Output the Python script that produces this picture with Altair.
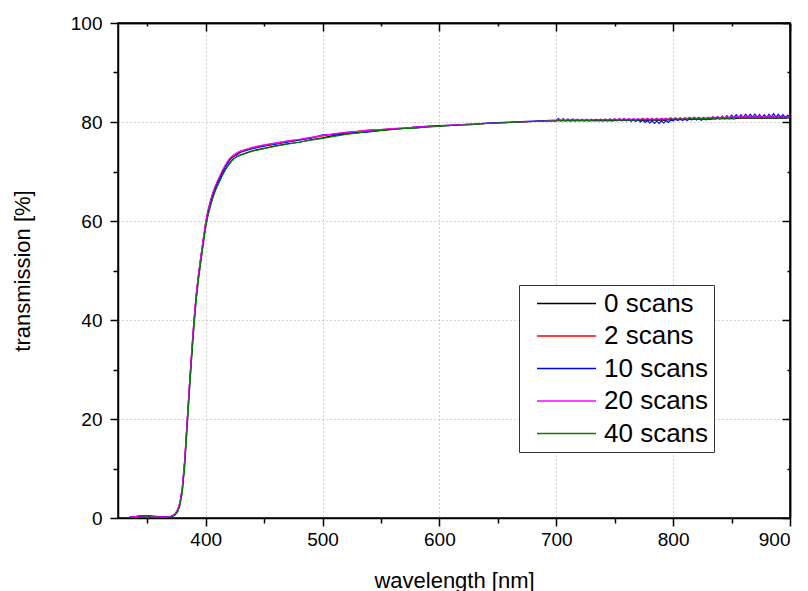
import altair as alt
import pandas as pd

# Sampling wavelengths [nm]: coarse on the flat baseline, fine across the edge
# and in the red part where the interference ripple shows up.
wavelength = (list(range(335, 371, 5)) + list(range(372, 431, 2))
              + list(range(440, 691, 10)) + list(range(700, 901, 2)))

series_names = ["0 scans", "2 scans", "10 scans", "20 scans", "40 scans"]
series_colors = ["#000000", "#ff0000", "#0000ff", "#ff00ff", "#008000"]

# Transmission [%] for each number of scans, one value per wavelength above.
t_0 = [
    0.2, 0.3, 0.5, 0.5, 0.4, 0.3, 0.2, 0.2,
    0.4, 0.7, 1.3, 2.6, 5.3, 10.5, 17.8, 25.3, 32.4, 38.9, 44.4, 48.6, 52.2, 55.6, 58.9, 61.3, 63.1,
    64.7, 66.1, 67.2, 68.2, 69.2, 70.1, 70.9, 71.6, 72.1, 72.6, 72.9, 73.2, 73.4,
    74.2, 74.7, 75.2, 75.6, 75.9, 76.4, 76.8, 77.3, 77.6, 77.8, 78.1, 78.3, 78.5, 78.7, 78.8, 79.0,
    79.2, 79.3, 79.4, 79.5, 79.7, 79.8, 79.9, 80.0, 80.1, 80.2,
    80.2, 80.3, 80.2, 80.3, 80.2, 80.3, 80.2, 80.3, 80.2, 80.3,
    80.2, 80.3, 80.2, 80.3, 80.2, 80.3, 80.2, 80.3, 80.2, 80.3,
    80.2, 80.3, 80.2, 80.3, 80.2, 80.3, 80.3, 80.4, 80.3, 80.4,
    80.3, 80.4, 80.3, 80.4, 80.3, 80.4, 80.3, 80.4, 80.3, 80.4,
    80.3, 80.4, 80.3, 80.4, 80.3, 80.4, 80.3, 80.4, 80.4, 80.5,
    80.4, 80.5, 80.4, 80.5, 80.4, 80.5, 80.4, 80.5, 80.5, 80.6,
    80.5, 80.6, 80.5, 80.6, 80.5, 80.6, 80.5, 80.6, 80.6, 80.7,
    80.6, 80.7, 80.6, 80.7, 80.6, 80.7, 80.6, 80.7, 80.7, 80.8,
    80.7, 80.8, 80.7, 80.8, 80.7, 80.8, 80.7, 80.8, 80.7, 80.8,
    80.7, 80.8, 80.7, 80.8, 80.7, 80.8, 80.7, 80.8, 80.7, 80.8,
    80.8,
]
t_2 = [
    0.2, 0.3, 0.3, 0.4, 0.3, 0.2, 0.2, 0.3,
    0.5, 0.9, 1.6, 3.1, 6.1, 11.5, 19.0, 26.5, 33.5, 40.0, 45.4, 49.5, 53.0, 56.4, 59.7, 62.1, 63.9,
    65.5, 66.8, 67.9, 68.9, 69.9, 70.8, 71.6, 72.3, 72.8, 73.2, 73.5, 73.8, 74.0,
    74.8, 75.3, 75.7, 76.1, 76.4, 76.8, 77.2, 77.6, 77.9, 78.1, 78.4, 78.5, 78.7, 78.8, 79.0, 79.1,
    79.2, 79.3, 79.5, 79.6, 79.7, 79.8, 79.9, 80.0, 80.1, 80.2,
    80.3, 80.5, 80.3, 80.5, 80.3, 80.5, 80.3, 80.5, 80.3, 80.5,
    80.3, 80.4, 80.3, 80.4, 80.3, 80.5, 80.3, 80.5, 80.3, 80.5,
    80.3, 80.5, 80.3, 80.5, 80.3, 80.5, 80.3, 80.5, 80.4, 80.6,
    80.4, 80.6, 80.4, 80.6, 80.4, 80.6, 80.4, 80.6, 80.4, 80.6,
    80.4, 80.6, 80.4, 80.6, 80.4, 80.6, 80.5, 80.7, 80.5, 80.7,
    80.5, 80.7, 80.5, 80.7, 80.5, 80.7, 80.5, 80.8, 80.6, 80.8,
    80.6, 80.8, 80.6, 80.8, 80.6, 80.9, 80.6, 80.9, 80.7, 80.9,
    80.7, 80.9, 80.7, 80.9, 80.7, 81.0, 80.8, 81.0, 80.8, 81.0,
    80.8, 81.0, 80.8, 81.1, 80.8, 81.1, 80.9, 81.1, 80.9, 81.1,
    80.9, 81.1, 80.9, 81.1, 80.9, 81.2, 80.9, 81.2, 80.9, 81.1,
    81.0,
]
t_10 = [
    0.2, 0.3, 0.4, 0.4, 0.3, 0.2, 0.2, 0.3,
    0.5, 0.9, 1.6, 3.0, 6.0, 11.3, 18.8, 26.3, 33.3, 39.8, 45.2, 49.3, 52.8, 56.2, 59.5, 61.9, 63.7,
    65.3, 66.6, 67.7, 68.7, 69.7, 70.6, 71.4, 72.1, 72.6, 73.0, 73.3, 73.6, 73.9,
    74.6, 75.1, 75.5, 75.9, 76.3, 76.7, 77.4, 77.5, 77.7, 77.9, 78.0, 78.3, 78.6, 78.8, 79.0, 79.2,
    79.3, 79.4, 79.5, 79.6, 79.8, 79.9, 80.0, 80.1, 80.2, 80.3,
    80.4, 80.7, 80.2, 80.7, 80.2, 80.6, 80.2, 80.6, 80.3, 80.5,
    80.3, 80.5, 80.3, 80.5, 80.3, 80.5, 80.3, 80.5, 80.4, 80.5,
    80.3, 80.6, 80.3, 80.6, 80.2, 80.6, 80.2, 80.7, 80.2, 80.7,
    80.2, 80.6, 80.1, 80.6, 80.1, 80.5, 80.0, 80.4, 79.9, 80.3,
    79.8, 80.2, 79.7, 80.2, 79.7, 80.2, 79.8, 80.3, 79.9, 80.4,
    80.2, 80.7, 80.3, 80.8, 80.3, 80.8, 80.3, 80.8, 80.4, 80.9,
    80.4, 80.8, 80.3, 80.8, 80.4, 80.9, 80.5, 81.0, 80.6, 81.1,
    80.6, 81.2, 80.7, 81.3, 80.8, 81.4, 80.9, 81.5, 80.9, 81.5,
    80.9, 81.6, 81.0, 81.6, 81.0, 81.6, 81.0, 81.5, 80.9, 81.5,
    80.9, 81.6, 81.0, 81.7, 81.0, 81.6, 81.0, 81.5, 81.0, 81.4,
    81.1,
]
t_20 = [
    0.2, 0.3, 0.4, 0.4, 0.3, 0.2, 0.2, 0.3,
    0.5, 0.9, 1.7, 3.2, 6.3, 11.8, 19.3, 26.8, 33.8, 40.2, 45.6, 49.7, 53.2, 56.6, 59.9, 62.3, 64.1,
    65.7, 67.0, 68.1, 69.1, 70.1, 71.0, 71.8, 72.5, 73.0, 73.4, 73.7, 74.0, 74.2,
    74.9, 75.4, 75.8, 76.2, 76.5, 76.9, 77.3, 77.6, 77.9, 78.1, 78.3, 78.5, 78.7, 78.8, 79.0, 79.1,
    79.2, 79.4, 79.5, 79.6, 79.7, 79.8, 79.9, 80.0, 80.1, 80.2,
    80.4, 80.6, 80.3, 80.6, 80.3, 80.6, 80.4, 80.6, 80.4, 80.6,
    80.4, 80.6, 80.4, 80.6, 80.4, 80.6, 80.4, 80.6, 80.4, 80.6,
    80.4, 80.6, 80.4, 80.6, 80.4, 80.7, 80.4, 80.7, 80.5, 80.7,
    80.5, 80.7, 80.5, 80.7, 80.5, 80.7, 80.5, 80.8, 80.5, 80.8,
    80.5, 80.8, 80.5, 80.8, 80.5, 80.8, 80.6, 80.8, 80.6, 80.9,
    80.6, 80.9, 80.6, 80.9, 80.6, 80.9, 80.7, 81.0, 80.7, 81.0,
    80.7, 81.0, 80.7, 81.0, 80.7, 81.0, 80.8, 81.1, 80.8, 81.1,
    80.8, 81.1, 80.8, 81.1, 80.8, 81.1, 80.9, 81.2, 80.9, 81.2,
    80.9, 81.2, 80.9, 81.2, 80.9, 81.2, 80.9, 81.2, 80.9, 81.2,
    80.9, 81.2, 80.9, 81.2, 80.9, 81.1, 80.9, 81.1, 80.9, 81.1,
    81.0,
]
t_40 = [
    0.1, 0.1, 0.2, 0.2, 0.2, 0.1, 0.1, 0.2,
    0.3, 0.6, 1.2, 2.5, 5.1, 10.2, 17.5, 25.0, 32.1, 38.6, 44.1, 48.3, 51.9, 55.3, 58.6, 61.0, 62.9,
    64.5, 65.9, 67.0, 68.0, 69.0, 69.9, 70.7, 71.4, 72.0, 72.5, 72.8, 73.1, 73.3,
    74.1, 74.6, 75.1, 75.5, 75.9, 76.3, 76.7, 77.1, 77.5, 77.8, 78.1, 78.3, 78.5, 78.7, 78.8, 79.0,
    79.1, 79.3, 79.4, 79.5, 79.7, 79.8, 79.9, 80.0, 80.1, 80.2,
    80.2, 80.4, 80.2, 80.4, 80.2, 80.4, 80.2, 80.4, 80.2, 80.4,
    80.2, 80.4, 80.2, 80.4, 80.2, 80.4, 80.3, 80.5, 80.3, 80.5,
    80.3, 80.5, 80.3, 80.5, 80.3, 80.5, 80.3, 80.5, 80.3, 80.5,
    80.3, 80.5, 80.3, 80.5, 80.3, 80.5, 80.4, 80.6, 80.4, 80.6,
    80.4, 80.6, 80.4, 80.6, 80.4, 80.6, 80.4, 80.6, 80.5, 80.7,
    80.5, 80.7, 80.5, 80.7, 80.5, 80.7, 80.5, 80.7, 80.6, 80.8,
    80.6, 80.8, 80.6, 80.8, 80.6, 80.8, 80.6, 80.8, 80.7, 80.9,
    80.7, 80.9, 80.7, 80.9, 80.7, 80.9, 80.7, 80.9, 80.8, 81.0,
    80.8, 81.0, 80.8, 81.0, 80.8, 81.0, 80.8, 81.0, 80.8, 81.0,
    80.8, 81.0, 80.8, 81.0, 80.8, 81.0, 80.8, 81.0, 80.8, 81.0,
    80.9,
]

x_major = [400, 500, 600, 700, 800, 900]
x_minor = [350, 450, 550, 650, 750, 850]
y_major = [0, 20, 40, 60, 80, 100]
y_minor = [10, 30, 50, 70, 90]

W, H = 672, 495
FONT = "Liberation Sans"

rows = []
for k, (name, values) in enumerate(zip(series_names, [t_0, t_2, t_10, t_20, t_40])):
    for wl, t in zip(wavelength, values):
        rows.append({"wavelength": wl, "transmission": t, "series": name, "k": k})
df = pd.DataFrame(rows)

x_scale = alt.Scale(domain=[325, 900], nice=False, zero=False)
y_scale = alt.Scale(domain=[0, 100], nice=False, zero=False)

# Legend key: a long horizontal stroke drawn from a small symbol size, so the
# rows stay compact while the line sample stays wide.
legend = alt.Legend(
    orient="none", legendX=401, legendY=262, title=None,
    strokeColor="#333333", fillColor="white", padding=5,
    symbolType="M-2.36,0H2.36", symbolSize=625, symbolStrokeWidth=1.3,
    symbolStrokeColor=alt.ExprRef(expr="scale('color', datum.value)"),
    symbolOpacity=1,
    symbolOffset=29, labelOffset=24, rowPadding=5.5,
    labelFontSize=26, labelFont=FONT, labelColor="black",
)

lines = alt.Chart(df).mark_line(strokeWidth=1.1).encode(
    x=alt.X("wavelength:Q", scale=x_scale, axis=alt.Axis(
        orient="bottom", values=x_major, title="wavelength [nm]", tickSize=8,
        labelPadding=4, titlePadding=21, grid=True)),
    y=alt.Y("transmission:Q", scale=y_scale, axis=alt.Axis(
        orient="left", values=y_major, title="transmission [%]", tickSize=8,
        labelPadding=8, titlePadding=36, grid=True)),
    color=alt.Color("series:N", sort=series_names,
                    scale=alt.Scale(domain=series_names, range=series_colors),
                    legend=legend),
    order=alt.Order("k:Q"),
)

frame = pd.DataFrame({"wavelength": [325, 900], "transmission": [0, 100]})


def tick_layer(xvals, yvals, size, inward):
    """Invisible layer that only carries an extra set of axis ticks."""
    xo = -H if inward else 0
    yo = -W if inward else 0
    return alt.Chart(frame).mark_point(opacity=0).encode(
        x=alt.X("wavelength:Q", scale=x_scale, axis=alt.Axis(
            orient="bottom", values=xvals, tickSize=size, labels=False,
            title=None, grid=False, offset=xo, domain=inward)),
        y=alt.Y("transmission:Q", scale=y_scale, axis=alt.Axis(
            orient="left", values=yvals, tickSize=size, labels=False,
            title=None, grid=False, offset=yo, domain=inward)),
    )


chart = alt.layer(
    lines,
    tick_layer(x_minor, y_minor, 5, False),
    tick_layer(x_major, y_major, 8, True),
    tick_layer(x_minor, y_minor, 3, True),
).resolve_axis(x="independent", y="independent").properties(
    width=W, height=H,
    autosize=alt.AutoSizeParams(type="none"),
    padding={"left": 118, "top": 23, "right": 18, "bottom": 73},
).configure_view(
    stroke="black", strokeWidth=1.5,
).configure_axis(
    domainColor="black", domainWidth=1.5, tickColor="black", tickWidth=1.5,
    labelFont=FONT, labelFontSize=19, labelColor="black",
    titleFont=FONT, titleFontSize=22, titleFontWeight="normal", titleColor="black",
    gridColor="#a8a8a8", gridDash=[1, 3], gridWidth=1,
)

chart.save("out.html", embed_options={"renderer": "svg", "actions": False})
